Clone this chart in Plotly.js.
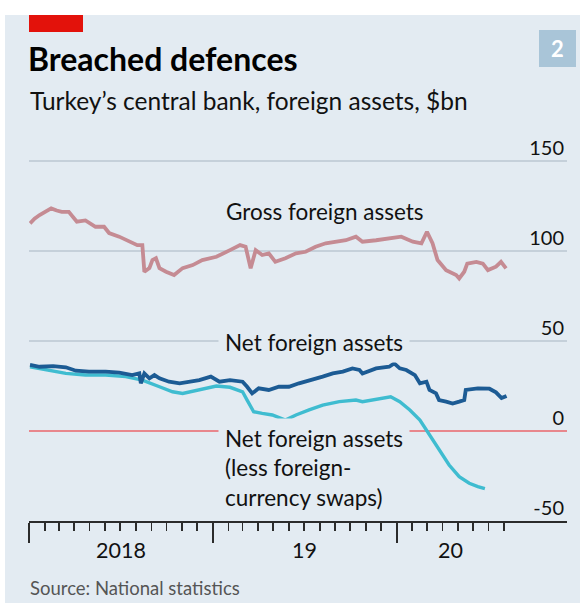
<!DOCTYPE html>
<html>
<head>
<meta charset="utf-8">
<script src="https://cdn.plot.ly/plotly-3.0.1.min.js"></script>
<style>html,body{margin:0;padding:0;background:#fff;}#chart{width:580px;height:606px;}</style>
</head>
<body>
<div id="chart"></div>
<script>
// Gross foreign assets, $bn
const grossDates = ['2018-01-03','2018-01-12','2018-01-22','2018-02-03','2018-02-14','2018-02-25','2018-03-07','2018-03-21','2018-04-06','2018-04-23','2018-05-13','2018-05-30','2018-06-09','2018-06-29','2018-07-19','2018-08-04','2018-08-14','2018-08-18','2018-08-28','2018-09-03','2018-09-10','2018-09-17','2018-09-30','2018-10-16','2018-11-02','2018-11-22','2018-12-11','2019-01-08','2019-02-04','2019-02-24','2019-03-07','2019-03-17','2019-03-27','2019-04-09','2019-04-22','2019-05-05','2019-05-25','2019-06-15','2019-07-04','2019-07-24','2019-08-13','2019-09-02','2019-09-22','2019-10-12','2019-10-25','2019-11-21','2019-12-17','2020-01-10','2020-02-02','2020-02-19','2020-03-01','2020-03-12','2020-03-22','2020-04-08','2020-04-28','2020-05-04','2020-05-14','2020-05-20','2020-06-07','2020-06-20','2020-06-30','2020-07-16','2020-07-26','2020-08-05'];
const grossValues = [115.4,118,120,122,123.7,122.5,121.8,121.8,116.3,117,113.5,113.5,110,108,105.2,103.3,103.3,88.5,90.5,95,96,90.5,88.5,86.7,90.5,92.2,95,96.8,100.5,103.3,102.4,90.4,100.5,97.8,98.7,94,96,98.7,99.6,102.4,104.3,105.2,106,108,105.2,106,107,108,105.2,104.3,110.7,104.3,95,89.4,86.7,84.8,88.5,93,94,93,89.4,91.3,94,90.4];

// Net foreign assets, $bn
const netDates = ['2018-01-03','2018-01-22','2018-02-18','2018-03-15','2018-04-04','2018-04-30','2018-06-02','2018-06-29','2018-07-25','2018-08-08','2018-08-11','2018-08-18','2018-08-28','2018-09-07','2018-09-17','2018-10-06','2018-10-27','2018-11-16','2018-12-05','2018-12-28','2019-01-14','2019-02-04','2019-03-01','2019-03-10','2019-03-20','2019-04-02','2019-04-22','2019-05-12','2019-06-01','2019-06-21','2019-07-17','2019-08-07','2019-08-27','2019-09-16','2019-10-05','2019-10-19','2019-10-25','2019-11-21','2019-12-17','2019-12-27','2020-01-07','2020-01-20','2020-02-06','2020-02-16','2020-02-29','2020-03-06','2020-03-19','2020-03-25','2020-04-08','2020-04-21','2020-05-04','2020-05-14','2020-05-17','2020-06-10','2020-07-03','2020-07-16','2020-07-27','2020-08-06'];
const netValues = [36.7,35.7,36.1,35.4,33.5,33,33,32.4,31.1,32,26.5,32,29.3,31.1,29.3,27.4,26.5,27.4,28.3,30.2,27.4,28.3,27.4,24.6,20.9,23.7,22.8,24.6,24.6,26.5,28.3,30.2,32,33,34.8,33.9,32,34.8,35.7,37.6,34.8,33.9,31.1,26.5,27.4,22.8,20.9,17.2,16.3,15.3,16.3,17.2,22.8,23.7,23.5,21.5,18.3,19.5];

// Net foreign assets less foreign-currency swaps, $bn
const swapDates = ['2018-01-03','2018-02-05','2018-03-15','2018-04-23','2018-06-02','2018-07-12','2018-08-14','2018-09-17','2018-10-13','2018-11-02','2018-12-05','2019-01-08','2019-02-04','2019-03-01','2019-03-10','2019-03-23','2019-04-09','2019-04-29','2019-05-25','2019-06-15','2019-07-11','2019-08-07','2019-09-09','2019-10-12','2019-10-25','2019-11-21','2019-12-20','2020-01-07','2020-01-27','2020-02-16','2020-02-29','2020-03-12','2020-03-25','2020-04-14','2020-05-04','2020-05-24','2020-06-10','2020-06-24'];
const swapValues = [35.7,33.9,32,31.1,31.1,30.2,28.3,24.6,21.8,20.9,22.8,25,24.3,21.8,17.2,10.7,9.8,8.9,6.1,8.9,11.7,14.4,16.3,17.2,16.3,17.6,19,16.3,11.7,6.1,0.5,-5,-10.6,-18.9,-25.4,-29,-30.9,-32];

const yTickVals = [-50, 0, 50, 100, 150];
const yTickText = ['-50', '0', '50', '100', '150'];
const yearLabels = ['2018', '19', '20'];
const yearLabelDates = ['2018-07-02', '2019-07-02', '2020-04-17'];
const yearTickDates = ['2018-01-01', '2019-01-01', '2020-01-01'];

// monthly tick marks, Jan 2018 to Aug 2020
const monthTicks = [];
for (let m = 0; m <= 31; m++) {
  const y = 2018 + Math.floor(m / 12), mo = (m % 12) + 1;
  monthTicks.push(y + '-' + String(mo).padStart(2, '0') + '-01');
}

const BG = '#e3ebf2';
const FONT = 'Lato, "Open Sans", sans-serif';

const traces = [
  {x: grossDates, y: grossValues, type: 'scatter', mode: 'lines', name: 'Gross foreign assets',
   line: {color: '#c58b93', width: 3.8}, hoverinfo: 'skip'},
  {x: swapDates, y: swapValues, type: 'scatter', mode: 'lines', name: 'Net foreign assets (less foreign-currency swaps)',
   line: {color: '#3fbcd0', width: 3.4}, hoverinfo: 'skip'},
  {x: netDates, y: netValues, type: 'scatter', mode: 'lines', name: 'Net foreign assets',
   line: {color: '#1c5b94', width: 3.8}, hoverinfo: 'skip'}
];

// pixel helpers for paper coordinates (plot area: x 29..567, y 131..521)
const px = v => (v - 29) / 538;
const py = v => (521 - v) / 390;

const annotations = [
  {text: 'Turkey’s central bank, foreign assets, $bn', xref: 'paper', yref: 'paper', x: px(28), y: py(100),
   xanchor: 'left', yanchor: 'middle', showarrow: false, font: {size: 24.5, color: '#111', family: FONT}},
  {text: 'Gross foreign assets', xref: 'paper', yref: 'paper', x: px(325), y: py(211),
   xanchor: 'center', yanchor: 'middle', showarrow: false, font: {size: 22.5, color: '#111', family: FONT}},
  {text: 'Net foreign assets', xref: 'paper', yref: 'paper', x: px(218), y: py(342),
   xanchor: 'left', yanchor: 'middle', showarrow: false, bgcolor: BG, borderpad: 6,
   font: {size: 22.5, color: '#111', family: FONT}},
  {text: 'Net foreign assets<br>(less foreign-<br>currency swaps)', xref: 'paper', yref: 'paper', x: px(218), y: py(468),
   xanchor: 'left', yanchor: 'middle', align: 'left', showarrow: false, bgcolor: BG, borderpad: 6,
   font: {size: 22.5, color: '#111', family: FONT}},
  {text: 'Source: National statistics', xref: 'paper', yref: 'paper', x: px(28), y: py(588),
   xanchor: 'left', yanchor: 'middle', showarrow: false, font: {size: 18.5, color: '#555', family: FONT}},
  {text: '<b>2</b>', xref: 'paper', yref: 'paper', x: px(557.5), y: py(48.5),
   xanchor: 'center', yanchor: 'middle', showarrow: false, font: {size: 22, color: '#ffffff', family: FONT}}
];
yearLabels.forEach((t, i) => {
  annotations.push({text: t, xref: 'x', yref: 'paper', x: yearLabelDates[i], y: py(550),
    xanchor: 'center', yanchor: 'middle', showarrow: false, font: {size: 21.5, color: '#111', family: FONT}});
});

const shapes = [
  {type: 'rect', xref: 'paper', yref: 'paper', x0: px(5), x1: px(580), y0: py(603), y1: py(15),
   fillcolor: BG, line: {width: 0}, layer: 'below'},
  {type: 'rect', xref: 'paper', yref: 'paper', x0: px(29), x1: px(83), y0: py(32), y1: py(15),
   fillcolor: '#e3120b', line: {width: 0}, layer: 'below'},
  {type: 'rect', xref: 'paper', yref: 'paper', x0: px(539), x1: px(576), y0: py(67), y1: py(30),
   fillcolor: '#a9c5d8', line: {width: 0}, layer: 'below'}
];

const layout = {
  width: 580, height: 606,
  margin: {l: 29, r: 13, t: 131, b: 85, pad: 0},
  paper_bgcolor: '#ffffff',
  plot_bgcolor: 'rgba(0,0,0,0)',
  showlegend: false,
  font: {family: FONT, color: '#111'},
  title: {text: '<b>Breached defences</b>', x: 28 / 580, xanchor: 'left', xref: 'container',
          y: 1 - 60 / 606, yanchor: 'middle', yref: 'container',
          font: {size: 32, color: '#000', family: FONT}},
  xaxis: {
    type: 'date', range: ['2018-01-01', '2020-12-04'],
    showgrid: false, zeroline: false,
    showline: true, linecolor: '#2b2b2b', linewidth: 2,
    ticks: 'outside', tickcolor: '#2b2b2b', tickwidth: 1.8, ticklen: 20,
    tickmode: 'array', tickvals: yearTickDates, showticklabels: false,
    minor: {ticks: 'outside', ticklen: 8, tickcolor: '#2b2b2b', tickwidth: 1.8,
            tickmode: 'array', tickvals: monthTicks, showgrid: false},
    fixedrange: true
  },
  yaxis: {
    range: [-50, 166.7], side: 'right',
    tickmode: 'array', tickvals: yTickVals, ticktext: yTickText,
    ticklabelposition: 'inside', ticks: '', ticklabelshift: -13,
    tickfont: {size: 20, color: '#111', family: FONT},
    showgrid: true, gridcolor: '#c5d0da', gridwidth: 2,
    zeroline: true, zerolinecolor: '#e8878d', zerolinewidth: 2.5,
    showline: false, fixedrange: true
  },
  shapes: shapes,
  annotations: annotations
};

Plotly.newPlot('chart', traces, layout, {displayModeBar: false, staticPlot: true});
</script>
</body>
</html>
